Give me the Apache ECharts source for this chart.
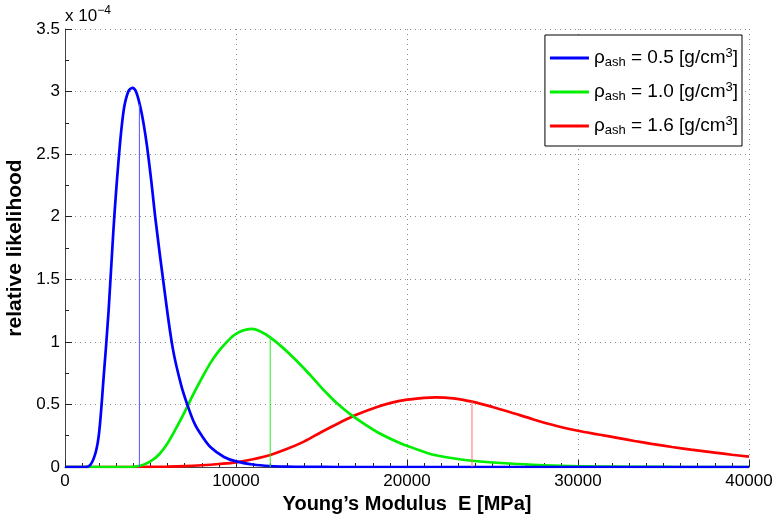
<!DOCTYPE html>
<html>
<head>
<meta charset="utf-8">
<script src="https://cdn.jsdelivr.net/npm/echarts@6/dist/echarts.min.js"></script>
<style>
  html, body { margin: 0; padding: 0; background: #fff; }
  #chart { width: 774px; height: 520px; }
</style>
</head>
<body>
<div id="chart"></div>
<script>
// values in units of 1e-4 (axis multiplier shown top-left)
var legendLabels = ['0.5', '1.0', '1.6'];

var blueCurve = [
  [0, 0], [1200, 0], [1500, 0.02], [1800, 0.12], [2000, 0.28], [2250, 0.7],
  [2550, 1.25], [2830, 1.89], [3120, 2.43], [3420, 2.84], [3700, 3.0],
  [3950, 3.03], [4150, 3.0], [4400, 2.88], [4600, 2.74], [4800, 2.56],
  [5050, 2.28], [5300, 1.97], [5800, 1.43], [6300, 0.95], [6800, 0.65],
  [7200, 0.48], [7600, 0.34], [8000, 0.25], [8500, 0.16], [9300, 0.08],
  [10000, 0.045], [11000, 0.02], [12000, 0.008], [13000, 0.003], [14000, 0.001],
  [16000, 0], [40000, 0]
];
var greenCurve = [
  [0, 0], [3500, 0], [4400, 0.01], [5000, 0.045], [5500, 0.1], [6000, 0.19],
  [6500, 0.31], [7000, 0.44], [7500, 0.58], [8000, 0.71], [8500, 0.83],
  [8900, 0.91], [9400, 0.99], [9900, 1.055], [10400, 1.09], [10900, 1.103],
  [11400, 1.085], [12000, 1.036], [12600, 0.97], [13200, 0.895], [14000, 0.785],
  [14700, 0.68], [15300, 0.59], [15900, 0.51], [16900, 0.4], [18250, 0.28],
  [19600, 0.19], [20200, 0.16], [21600, 0.096], [23800, 0.05], [26500, 0.024],
  [29500, 0.008], [33000, 0.002], [36000, 0], [40000, 0]
];
var redCurve = [
  [0, 0], [4000, 0], [5000, 0.001], [6000, 0.003], [7000, 0.007], [8000, 0.014],
  [9000, 0.024], [10000, 0.037], [11000, 0.062], [12000, 0.096], [13000, 0.145],
  [14000, 0.205], [15000, 0.28], [16000, 0.35], [17000, 0.415], [18000, 0.468],
  [19000, 0.51], [20000, 0.538], [21000, 0.553], [21700, 0.557], [22700, 0.549],
  [23800, 0.522], [25000, 0.48], [26000, 0.44], [27400, 0.38], [28700, 0.33],
  [30000, 0.29], [31200, 0.26], [32300, 0.233], [33300, 0.208], [34300, 0.185],
  [35500, 0.16], [36600, 0.139], [38000, 0.115], [39000, 0.098], [40000, 0.083]
];
// vertical marker lines: [x, top]
var blueMark = [4350, 2.9];
var greenMark = [12000, 1.036];
var redMark = [23800, 0.522];

var xTicks = [0, 10000, 20000, 30000, 40000];
var yTicks = [0, 0.5, 1, 1.5, 2, 2.5, 3, 3.5];

var font = "'Liberation Sans', Arial, Helvetica, sans-serif";
var names = legendLabels.map(function (v) { return 'ρash = ' + v + ' [g/cm3]'; });

function curve(name, data, color) {
  return {
    name: name, type: 'line', data: data, smooth: 0.35,
    symbol: 'none', lineStyle: { color: color, width: 2.7 }, itemStyle: { color: color }
  };
}
function mark(m, color) {
  return {
    type: 'line', data: [[m[0], 0], [m[0], m[1]]], symbol: 'none', silent: true,
    lineStyle: { color: color, width: 1 }
  };
}

var chart = echarts.init(document.getElementById('chart'));
chart.setOption({
  animation: false,
  textStyle: { fontFamily: font },
  grid: { left: 65, right: 25, top: 29, bottom: 53, outerBoundsMode: 'none', containLabel: false },
  legend: {
    data: names,
    orient: 'vertical',
    right: 32, top: 35,
    icon: 'rect', itemWidth: 39, itemHeight: 3, itemGap: 12,
    padding: [12, 4, 9, 5],
    backgroundColor: '#fff', borderColor: '#000', borderWidth: 1,
    formatter: function (name) {
      var v = legendLabels[names.indexOf(name)];
      return '{n|ρ}{s|ash}{n| = ' + v + ' [g/cm}{p|3}{n|]}';
    },
    textStyle: {
      color: '#000', fontSize: 19, fontFamily: font,
      rich: {
        n: { fontSize: 19, fontFamily: font },
        s: { fontSize: 13, fontFamily: font, padding: [9, 0, 0, 0] },
        p: { fontSize: 13, fontFamily: font, padding: [0, 0, 9, 0] }
      }
    }
  },
  xAxis: {
    type: 'value', min: xTicks[0], max: xTicks[xTicks.length - 1], interval: 10000,
    name: 'Young’s Modulus  E [MPa]', nameLocation: 'middle', nameGap: 22,
    nameTextStyle: { fontSize: 20, fontWeight: 'bold', color: '#000', fontFamily: font },
    axisLine: { lineStyle: { color: '#444', width: 1 } },
    axisTick: { inside: true, length: 7, lineStyle: { color: '#222' } },
    minorTick: { show: true, splitNumber: 10, length: 4, lineStyle: { color: '#222' } },
    axisLabel: { fontSize: 17, color: '#000', margin: 6, formatter: function (v) { return String(v); } },
    splitLine: { show: true, lineStyle: { color: '#888', type: [1, 4], width: 1 } }
  },
  yAxis: {
    type: 'value', min: yTicks[0], max: yTicks[yTicks.length - 1], interval: 0.5,
    name: 'relative likelihood', nameLocation: 'middle', nameGap: 30, nameRotate: 90,
    nameTextStyle: { fontSize: 21, fontWeight: 'bold', color: '#000', fontFamily: font },
    axisLine: { show: true, lineStyle: { color: '#444', width: 1 } },
    axisTick: { show: true, inside: true, length: 7, lineStyle: { color: '#222' } },
    minorTick: { show: true, splitNumber: 2, length: 4, lineStyle: { color: '#222' } },
    axisLabel: { fontSize: 17, color: '#000', margin: 5 },
    splitLine: { show: true, lineStyle: { color: '#888', type: [1, 4], width: 1 } }
  },
  graphic: [{
    type: 'text', left: 65, top: 5,
    style: {
      text: 'x 10{p|−4}', fill: '#000', font: '17px ' + font,
      rich: { p: { fontSize: 12, fontFamily: font, padding: [0, 0, 10, 0] } }
    }
  }],
  series: [
    curve(names[2], redCurve, '#ff0000'),
    curve(names[1], greenCurve, '#00ee00'),
    curve(names[0], blueCurve, '#0000ff'),
    mark(blueMark, '#5555ff'),
    mark(greenMark, '#22ee22'),
    mark(redMark, '#ff7070')
  ]
});
</script>
</body>
</html>
